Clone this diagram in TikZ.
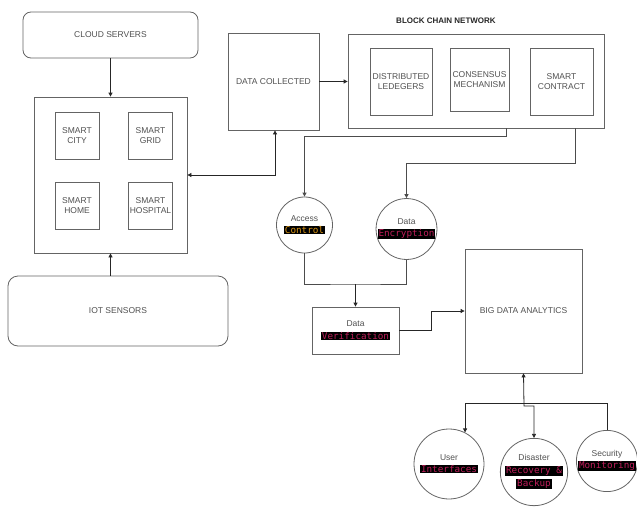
\documentclass[tikz,border=0pt]{standalone}
\usepackage{fontspec}
\setmainfont{Liberation Sans}
\newfontfamily\monof{DejaVu Sans Mono}
\usetikzlibrary{calc,arrows.meta}
\definecolor{bordc}{RGB}{100,100,100}
\definecolor{txtc}{RGB}{80,80,80}
\definecolor{hlred}{RGB}{190,30,90}
\definecolor{hlorg}{RGB}{220,150,20}
\newcommand{\hlt}[2]{{\setlength{\fboxsep}{0.8pt}\colorbox{black}{\monof\fontsize{9.3}{11}\selectfont\textcolor{#1}{#2}}}}
\tikzset{
  box/.style={draw=bordc,line width=0.8pt,inner sep=0pt,text=txtc,align=center,font=\fontsize{8.5}{10}\selectfont},
  rbox/.style={box,rounded corners=8pt},
  circ/.style={draw=bordc,line width=0.8pt,circle,inner sep=0pt,text=txtc,align=center,font=\fontsize{8.5}{12}\selectfont},
  arr/.style={draw=black!85,line width=0.8pt,-{Triangle[length=4pt,width=4pt]}},
  conn/.style={draw=black!70,line width=0.8pt},
}
\begin{document}
\begin{tikzpicture}[x=1pt,y=-1pt]
\useasboundingbox (0,0) rectangle (637,506);
% left side
\node[rbox,minimum width=175pt,minimum height=46pt] (cloud) at (110.5,35) {CLOUD SERVERS};
\node[box,minimum width=153pt,minimum height=156pt] (main) at (110.5,175) {};
\node[box,minimum width=44pt,minimum height=47pt] (city) at (77,135.5) {SMART\\CITY};
\node[box,minimum width=44pt,minimum height=47pt] (grid) at (150.5,135.5) {SMART\\GRID};
\node[box,minimum width=44pt,minimum height=47pt] (home) at (77,205.5) {SMART\\HOME};
\node[box,minimum width=44pt,minimum height=47pt] (hosp) at (150.5,205.5) {SMART\\HOSPITAL};
\node[rbox,rounded corners=10pt,minimum width=220pt,minimum height=70pt] (iot) at (118,311) {IOT SENSORS};
% data collected and blockchain
\node[box,minimum width=91pt,minimum height=97pt] (dc) at (273.5,81.5) {DATA COLLECTED};
\node[box,minimum width=256pt,minimum height=94pt] (bc) at (476,81) {};
\node[font=\bfseries\fontsize{8}{10}\selectfont,text=black!85] (bcl) at (446,21) {BLOCK CHAIN NETWORK};
\node[box,minimum width=62pt,minimum height=67pt] (dl) at (401,81.5) {DISTRIBUTED\\LEDEGERS};
\node[box,minimum width=59pt,minimum height=63pt] (cm) at (479.5,79.5) {CONSENSUS\\MECHANISM};
\node[box,minimum width=63pt,minimum height=67pt] (sc) at (561.5,81.5) {SMART\\CONTRACT};
% circles
\node[circ,minimum size=56pt] (ac) at (304.5,225) {Access\\\hlt{hlorg}{Control}};
\node[circ,minimum size=60pt] (de) at (406.5,229) {Data\\\hlt{hlred}{Encryption}};
\node[box,minimum width=87pt,minimum height=47pt,font=\fontsize{8.5}{13}\selectfont] (dv) at (355.5,330.5) {Data\\\hlt{hlred}{Verification}};
\node[box,minimum width=117pt,minimum height=124pt] (bda) at (523.5,311) {BIG DATA ANALYTICS};
\node[circ,minimum size=70pt] (ui) at (449,464) {User\\\hlt{hlred}{Interfaces}};
\node[circ,minimum size=66pt,font=\fontsize{8.5}{13}\selectfont] (dr) at (534,472) {Disaster\\\hlt{hlred}{Recovery \&}\\\hlt{hlred}{Backup}};
\node[circ,minimum size=60pt] (sm) at (607,461) {Security\\\hlt{hlred}{Monitoring}};
% connectors
\draw[arr] (cloud.south) -- (main.north);
\draw[arr] (iot.north -| main.south) -- (main.south);
\draw[arr] (dc.east) -- (dc.east -| bc.west);
\draw[arr,{Triangle[length=4pt,width=4pt]}-{Triangle[length=4pt,width=4pt]}] (main.east) -| ([xshift=1.5pt]dc.south);
\draw[arr,draw=black!70] ([xshift=30pt]bc.south) -- ++(0,8) -| (ac.north);
\draw[arr,draw=black!70] ([xshift=99pt]bc.south) -- ++(0,35) -| (de.north);
\coordinate (mj) at (355.5,284);
\draw[conn] (ac.south) |- (mj) -| (de.south);
\draw[arr] (mj) -- (dv.north);
\draw[arr] (dv.east) -- ++(32,0) |- (bda.west);
\coordinate (hb) at (0,403);
\coordinate (jg) at (524,406);
\draw[arr,{Triangle[length=4pt,width=4pt]}-{Triangle[length=4pt,width=4pt]}] (bda.south) -- (jg) -- (jg -| dr.north) -- (dr.north);
\draw[arr] (sm.north) |- (hb -| ui.63) -- (ui.63);
\end{tikzpicture}
\end{document}
